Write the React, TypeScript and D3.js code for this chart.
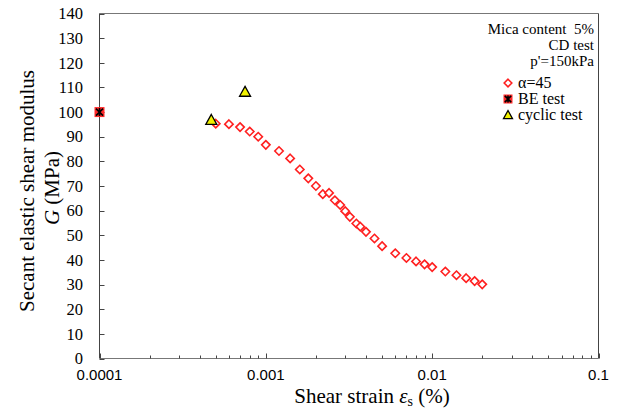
import React from "react";
import * as d3 from "d3";

const alphaStrain = [0.0005, 0.0006, 0.0007, 0.0008, 0.0009, 0.001, 0.0012, 0.0014, 0.0016, 0.0018, 0.002, 0.0022, 0.0024, 0.0026, 0.0028, 0.003, 0.0032, 0.0035, 0.0037, 0.004, 0.0045, 0.005, 0.006, 0.007, 0.008, 0.009, 0.01, 0.012, 0.014, 0.016, 0.018, 0.02];
const alphaG = [95.3, 95.1, 93.9, 92.1, 90.0, 86.7, 84.2, 81.2, 76.7, 73.1, 70.0, 66.7, 67.2, 64.2, 62.3, 59.8, 57.5, 54.8, 53.5, 51.4, 48.7, 45.6, 42.7, 40.8, 39.4, 38.2, 37.1, 35.3, 33.8, 32.6, 31.4, 30.1];
const beStrain = [0.0001];
const beG = [100];
const cyclicStrain = [0.00047, 0.00075];
const cyclicG = [96.8, 108.2];
const yTicks = [0, 10, 20, 30, 40, 50, 60, 70, 80, 90, 100, 110, 120, 130, 140];
const xMajor = [0.0001, 0.001, 0.01, 0.1];
const xMajorLabels = ["0.0001", "0.001", "0.01", "0.1"];
const noteLines = ["Mica content  5%", "CD test", "p'=150kPa"];
const legendLabels = ["\u03b1=45", "BE test", "cyclic test"];

const L = 99.5, R = 598.5, T = 13.5, B = 358.5;
const serif = "'Liberation Serif', 'Times New Roman', serif";
const sans = "'Liberation Sans', Arial, sans-serif";

function Diamond({ cx, cy, s = 4.2 }: { cx: number; cy: number; s?: number }) {
  return <path d={`M${cx},${cy - s}L${cx + s},${cy}L${cx},${cy + s}L${cx - s},${cy}Z`} fill="#fff" stroke="#ff2020" strokeWidth={1.6} />;
}
function BE({ cx, cy, s = 5 }: { cx: number; cy: number; s?: number }) {
  return (
    <g>
      <rect x={cx - s} y={cy - s} width={2 * s} height={2 * s} fill="#ff2a2a" />
      <path d={`M${cx - s * 0.7},${cy - s * 0.7}L${cx + s * 0.7},${cy + s * 0.7}M${cx - s * 0.7},${cy + s * 0.7}L${cx + s * 0.7},${cy - s * 0.7}M${cx},${cy - s * 0.8}L${cx},${cy + s * 0.8}`} stroke="#000" strokeWidth={1.6} />
    </g>
  );
}
function Tri({ cx, cy, s = 5.5 }: { cx: number; cy: number; s?: number }) {
  return <path d={`M${cx},${cy - s}L${cx + s},${cy + s * 0.8}L${cx - s},${cy + s * 0.8}Z`} fill="#f2f200" stroke="#000" strokeWidth={1.3} strokeLinejoin="miter" />;
}

export default function App() {
  const x = d3.scaleLog().domain([0.0001, 0.1]).range([L, R]);
  const y = d3.scaleLinear().domain([0, 140]).range([B, T]);
  const minor: number[] = [];
  for (let e = -4; e < -1; e++) for (let k = 2; k <= 9; k++) minor.push(k * Math.pow(10, e));
  const axisColor = "#444";
  return (
    <svg width={620} height={409} style={{ position: "absolute", left: 0, top: 0 }}>
      <rect x={0} y={0} width={620} height={409} fill="#fff" />
      {/* frame */}
      <line x1={L} x2={R} y1={T} y2={T} stroke="#777" />
      <line x1={R} x2={R} y1={T} y2={B} stroke={axisColor} />
      <line x1={L} x2={L} y1={T} y2={B} stroke={axisColor} />
      <line x1={L} x2={R} y1={B} y2={B} stroke="#777" />
      {/* y ticks */}
      {yTicks.map((t) => (
        <g key={"y" + t}>
          <line x1={L} x2={L + 5} y1={Math.round(y(t)) + 0.5} y2={Math.round(y(t)) + 0.5} stroke={axisColor} />
          <text x={83} y={y(t)} dy="0.35em" textAnchor="end" fontFamily={serif} fontSize={16.5} fill="#000">{t}</text>
        </g>
      ))}
      {/* x ticks */}
      {minor.map((t, i) => (
        <line key={"m" + i} x1={Math.round(x(t)) + 0.5} x2={Math.round(x(t)) + 0.5} y1={B} y2={B - 3} stroke={axisColor} />
      ))}
      {xMajor.map((t, i) => (
        <g key={"M" + i}>
          <line x1={Math.round(x(t)) + 0.5} x2={Math.round(x(t)) + 0.5} y1={B} y2={B - 5} stroke={axisColor} />
          <text x={x(t)} y={380} textAnchor="middle" fontFamily={sans} fontSize={15} fill="#000">{xMajorLabels[i]}</text>
        </g>
      ))}
      {/* axis titles */}
      <text x={372} y={403} textAnchor="middle" fontFamily={serif} fontSize={21} fill="#000">
        Shear strain <tspan fontStyle="italic">{"\u03b5"}</tspan><tspan fontSize={14} dy={3}>s</tspan><tspan dy={-3}> (%)</tspan>
      </text>
      <g transform="translate(34,191) rotate(-90)">
        <text x={0} y={0} textAnchor="middle" fontFamily={serif} fontSize={21} fill="#000">Secant elastic shear modulus</text>
      </g>
      <g transform="translate(59,188) rotate(-90)">
        <text x={0} y={0} textAnchor="middle" fontFamily={serif} fontSize={21} fill="#000"><tspan fontStyle="italic">G</tspan> (MPa)</text>
      </g>
      {/* data */}
      {alphaStrain.map((s, i) => <Diamond key={"a" + i} cx={x(s)} cy={y(alphaG[i])} />)}
      {beStrain.map((s, i) => <BE key={"b" + i} cx={x(s)} cy={y(beG[i])} />)}
      {cyclicStrain.map((s, i) => <Tri key={"c" + i} cx={x(s)} cy={y(cyclicG[i])} />)}
      {/* notes */}
      {noteLines.map((t, i) => (
        <text key={"n" + i} x={594} y={34 + i * 16} textAnchor="end" fontFamily={serif} fontSize={15} fill="#000" style={{ whiteSpace: "pre" }}>{t}</text>
      ))}
      {/* legend */}
      <Diamond cx={508} cy={83} s={3.8} />
      <BE cx={508} cy={99} s={4.5} />
      <Tri cx={508} cy={115} s={4.5} />
      {legendLabels.map((t, i) => (
        <text key={"l" + i} x={518} y={83 + i * 16} dy="0.33em" fontFamily={serif} fontSize={16} fill="#000" style={{ whiteSpace: "pre" }}>{t}</text>
      ))}
    </svg>
  );
}
